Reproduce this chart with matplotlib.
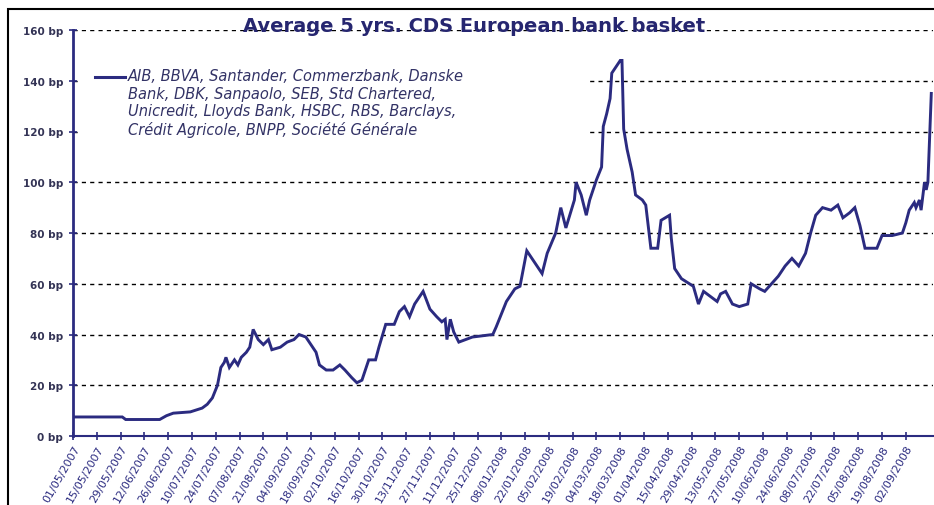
import numpy as np
import pandas as pd
import matplotlib
matplotlib.use("Agg")
import matplotlib.pyplot as plt
import matplotlib.dates as mdates
from matplotlib.lines import Line2D
from matplotlib.patches import Rectangle

# average 5y CDS spread of the basket, in bp
dates = [
    "2007-05-01", "2007-05-30", "2007-06-01", "2007-06-21", "2007-06-25", "2007-06-29",
    "2007-07-09", "2007-07-16", "2007-07-19", "2007-07-22", "2007-07-25", "2007-07-27",
    "2007-07-29", "2007-07-30", "2007-08-01", "2007-08-04", "2007-08-06", "2007-08-08",
    "2007-08-11", "2007-08-13", "2007-08-15", "2007-08-18", "2007-08-21", "2007-08-24",
    "2007-08-26", "2007-08-31", "2007-09-04", "2007-09-08", "2007-09-11", "2007-09-15",
    "2007-09-18", "2007-09-21", "2007-09-23", "2007-09-27", "2007-10-01", "2007-10-05",
    "2007-10-08", "2007-10-12", "2007-10-15", "2007-10-18", "2007-10-20", "2007-10-22",
    "2007-10-26", "2007-10-28", "2007-11-01", "2007-11-06", "2007-11-09", "2007-11-12",
    "2007-11-15", "2007-11-18", "2007-11-23", "2007-11-27", "2007-12-01", "2007-12-04",
    "2007-12-06", "2007-12-07", "2007-12-09", "2007-12-11", "2007-12-14", "2007-12-22",
    "2008-01-03", "2008-01-05", "2008-01-11", "2008-01-16", "2008-01-19", "2008-01-23",
    "2008-01-26", "2008-02-01", "2008-02-04", "2008-02-09", "2008-02-12", "2008-02-15",
    "2008-02-20", "2008-02-21", "2008-02-24", "2008-02-27", "2008-02-29", "2008-03-04",
    "2008-03-07", "2008-03-08", "2008-03-10", "2008-03-12", "2008-03-13", "2008-03-16",
    "2008-03-18", "2008-03-19", "2008-03-20", "2008-03-22", "2008-03-25", "2008-03-27",
    "2008-03-31", "2008-04-02", "2008-04-05", "2008-04-09", "2008-04-11", "2008-04-16",
    "2008-04-17", "2008-04-19", "2008-04-23", "2008-04-30", "2008-05-03", "2008-05-06",
    "2008-05-10", "2008-05-14", "2008-05-16", "2008-05-19", "2008-05-23", "2008-05-27",
    "2008-06-01", "2008-06-03", "2008-06-08", "2008-06-11", "2008-06-15", "2008-06-19",
    "2008-06-23", "2008-06-27", "2008-07-01", "2008-07-05", "2008-07-08", "2008-07-11",
    "2008-07-15", "2008-07-20", "2008-07-24", "2008-07-27", "2008-07-31", "2008-08-03",
    "2008-08-06", "2008-08-09", "2008-08-16", "2008-08-19", "2008-08-25", "2008-08-31",
    "2008-09-02", "2008-09-04", "2008-09-07", "2008-09-08", "2008-09-10", "2008-09-11",
    "2008-09-13", "2008-09-14", "2008-09-15", "2008-09-17",
]
cds_bp = [
    7.5, 7.5, 6.5, 6.5, 8, 9,
    9.5, 11, 12.5, 15, 20, 27,
    29, 31, 27, 30, 28, 31,
    33, 35, 42, 38, 36, 38,
    34, 35, 37, 38, 40, 39,
    36, 33, 28, 26, 26, 28,
    26, 23, 21, 22, 26, 30,
    30, 35, 44, 44, 49, 51,
    47, 52, 57, 50, 47, 45,
    46, 38, 46, 41, 37, 39,
    40, 43, 53, 58, 59, 73,
    70, 64, 72, 80, 90, 82,
    93, 100, 95, 87, 93, 101,
    106, 122, 127, 133, 143, 146,
    148, 148, 121, 113, 104, 95,
    93, 91, 74, 74, 85, 87,
    78, 66, 62, 59, 52, 57,
    55, 53, 56, 57, 52, 51,
    52, 60, 58, 57, 60, 63,
    67, 70, 67, 72, 80, 87,
    90, 89, 91, 86, 88, 90,
    83, 74, 74, 79, 79, 80,
    84, 89, 92, 90, 93, 89,
    100, 97, 100, 135,
]

series_label = ("AIB, BBVA, Santander, Commerzbank, Danske\n"
                "Bank, DBK, Sanpaolo, SEB, Std Chartered,\n"
                "Unicredit, Lloyds Bank, HSBC, RBS, Barclays,\n"
                "Crédit Agricole, BNPP, Société Générale")
title = "Average 5 yrs. CDS European bank basket"

# fortnightly category ticks
tick_dates = pd.date_range("2007-05-01", periods=36, freq="14D")
y_ticks = list(range(0, 161, 20))

navy = "#2b2b80"
W, H = 934, 506

fig = plt.figure(figsize=(W / 100, H / 100), dpi=100)
fig.patch.set_facecolor("white")
ax = fig.add_axes([73 / W, 1 - 437 / H, (933 - 73) / W, (437 - 31) / H])

x = pd.to_datetime(dates)
ax.plot(x, cds_bp, color=navy, lw=2.1, solid_joinstyle="miter", zorder=3)

ax.set_xlim(pd.Timestamp("2007-05-01"), pd.Timestamp("2008-09-18"))
ax.set_ylim(0, 160)

for v in y_ticks[1:]:
    ax.axhline(v, color="black", lw=1, ls=(0, (3, 3)), zorder=1)

ax.set_yticks(y_ticks)
ax.set_yticklabels([f"{v} bp" for v in y_ticks], fontsize=7.5,
                   fontweight="bold", color="#333355")
ax.set_xticks(tick_dates)
ax.xaxis.set_major_formatter(mdates.DateFormatter("%d/%m/%Y"))
for lab in ax.get_xticklabels():
    lab.set_rotation(60)
    lab.set_ha("right")
    lab.set_rotation_mode("anchor")
    lab.set_fontsize(8)
    lab.set_color(navy)

ax.tick_params(axis="both", direction="inout", length=6, width=1.2, color=navy)
ax.tick_params(axis="y", pad=4)
ax.tick_params(axis="x", pad=2)

for side in ("top", "right"):
    ax.spines[side].set_visible(False)
ax.spines["left"].set_color(navy)
ax.spines["left"].set_linewidth(2)
ax.spines["bottom"].set_color(navy)
ax.spines["bottom"].set_linewidth(1.5)
ax.set_facecolor("none")

fig.text(474 / W, 1 - 26 / H, title, ha="center", va="center",
         fontsize=14, fontweight="bold", color="#262670")

# hand-placed legend entry on a white patch that hides the grid
fig.add_artist(Rectangle((80 / W, 1 - 152 / H), 510 / W, 94 / H,
                         transform=fig.transFigure, facecolor="white",
                         edgecolor="none", zorder=2))
fig.add_artist(Line2D([95 / W, 125 / W], [1 - 78 / H, 1 - 78 / H],
                      color=navy, lw=2.2, zorder=3))
fig.text(128 / W, 1 - 69 / H, series_label, ha="left", va="top",
         fontsize=10.5, style="italic", color="#333366", linespacing=1.22,
         zorder=3)

# outer frame
fig.add_artist(Rectangle((8 / W, -0.1), 1.2, (1 - 10 / H) + 0.1,
                         transform=fig.transFigure, fill=False,
                         edgecolor="black", lw=1.5))

fig.savefig("out.png", dpi=100)
